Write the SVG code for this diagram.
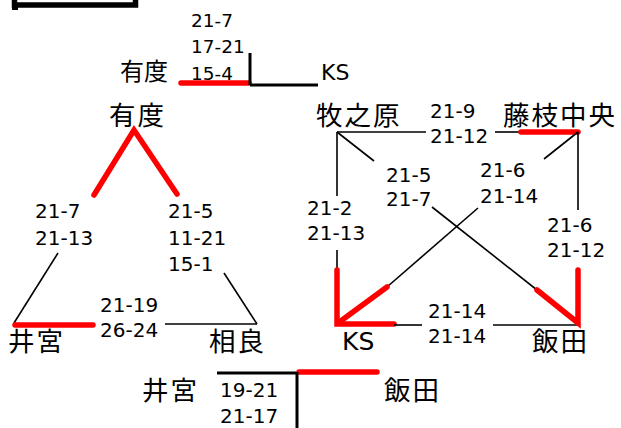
<svg xmlns="http://www.w3.org/2000/svg" width="621" height="428" viewBox="0 0 621 428">
<style>
.n{font-family:"DejaVu Sans","Liberation Sans",sans-serif;font-size:20px;fill:#000}
.s{font-size:18.5px}
.j{font-family:"Noto Sans CJK JP","Noto Sans",sans-serif;font-size:26.5px;fill:#000}
.k{font-family:"DejaVu Sans","Liberation Sans",sans-serif;font-size:25px;fill:#000}
.r{stroke:#FF0000;stroke-width:5.5;stroke-linecap:round;fill:none}
.b{stroke:#000;stroke-width:1.6;fill:none}
.t{stroke:#000;stroke-width:3;fill:none}
</style>
<rect width="621" height="428" fill="#fff"/>
<g id="title-box"><rect x="14.5" y="-30" width="121" height="35" fill="none" stroke="#000" stroke-width="5.5"/><rect x="12" y="4" width="6" height="6" fill="#000"/></g>
<g id="connectors">
<line class="r" x1="181" y1="83" x2="249" y2="83"/>
<line class="t" x1="250" y1="53" x2="250" y2="85"/>
<line class="t" x1="250" y1="85" x2="318" y2="85"/>
<polyline class="r" points="94,195 134,130 177,194"/>
<line class="b" x1="58" y1="253" x2="14" y2="323"/>
<line class="r" x1="15" y1="325" x2="93" y2="325"/>
<line class="b" x1="165" y1="324" x2="257" y2="324" stroke="#333"/>
<line class="b" x1="224" y1="273" x2="257" y2="324"/>
<line class="b" x1="337" y1="132" x2="426" y2="132"/>
<line class="b" x1="495" y1="132" x2="521" y2="132"/>
<line class="r" x1="521" y1="132" x2="578" y2="132"/>
<line class="b" x1="337" y1="132" x2="337" y2="196"/>
<line class="b" x1="337" y1="250" x2="337" y2="270"/>
<polyline class="r" points="337,270 337,324 394,324"/>
<line class="b" x1="394" y1="325" x2="422" y2="325"/>
<line class="b" x1="493" y1="325" x2="578" y2="325"/>
<line class="b" x1="337" y1="132" x2="374" y2="161"/>
<line class="b" x1="432" y1="207" x2="537" y2="290"/>
<polyline class="r" points="537,290 578,323 578,270"/>
<line class="b" x1="578" y1="132" x2="544" y2="159"/>
<line class="b" x1="478" y1="208" x2="387" y2="287"/>
<line class="r" x1="387" y1="287" x2="338" y2="323"/>
<line class="b" x1="578" y1="132" x2="578" y2="210"/>
<line class="t" x1="217" y1="373" x2="297" y2="373"/>
<line class="r" x1="299" y1="372" x2="377" y2="372"/>
<line class="t" x1="297" y1="372" x2="297" y2="430"/>
</g>
<g id="top-bracket">
<text class="j" x="120" y="80" style="font-size:24px">有度</text>
<text class="n s" x="191" y="27">21-7</text>
<text class="n s" x="191" y="53">17-21</text>
<text class="n s" x="191" y="80">15-4</text>
<text class="k" x="321" y="80" style="font-size:22px">KS</text>
</g>
<g id="node-udo"><text class="j" x="109" y="125" letter-spacing="2">有度</text></g>
<g id="node-imiya"><text class="j" x="8" y="351" letter-spacing="2">井宮</text></g>
<g id="node-sagara"><text class="j" x="209" y="351" letter-spacing="2">相良</text></g>
<g id="left-scores">
<text class="n" x="35" y="218">21-7</text>
<text class="n" x="35" y="245">21-13</text>
<text class="n" x="168" y="218">21-5</text>
<text class="n" x="168" y="245">11-21</text>
<text class="n" x="168" y="271">15-1</text>
<text class="n" x="100" y="312">21-19</text>
<text class="n" x="100" y="337">26-24</text>
</g>
<g id="node-makinohara"><text class="j" x="316" y="125" letter-spacing="2">牧之原</text></g>
<g id="node-fujiedachuo"><text class="j" x="503" y="125" letter-spacing="2">藤枝中央</text></g>
<g id="node-ks"><text class="k" x="342" y="350">KS</text></g>
<g id="node-iida"><text class="j" x="532" y="351" letter-spacing="2">飯田</text></g>
<g id="right-scores">
<text class="n" x="430" y="118">21-9</text>
<text class="n" x="430" y="143">21-12</text>
<text class="n" x="386" y="182">21-5</text>
<text class="n" x="386" y="206">21-7</text>
<text class="n" x="480" y="177">21-6</text>
<text class="n" x="480" y="203">21-14</text>
<text class="n" x="307" y="215">21-2</text>
<text class="n" x="307" y="240">21-13</text>
<text class="n" x="547" y="232">21-6</text>
<text class="n" x="547" y="257">21-12</text>
<text class="n" x="428" y="318">21-14</text>
<text class="n" x="428" y="343">21-14</text>
</g>
<g id="bottom-bracket">
<text class="j" x="142" y="400" letter-spacing="2">井宮</text>
<text class="n" x="220" y="397">19-21</text>
<text class="n" x="220" y="423">21-17</text>
<text class="j" x="384" y="400" letter-spacing="2">飯田</text>
</g>
</svg>
